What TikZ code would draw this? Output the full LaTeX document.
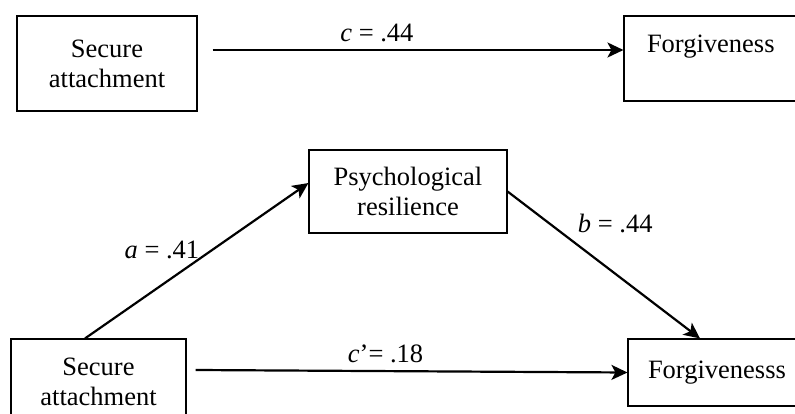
\documentclass[tikz,border=0pt]{standalone}
\usepackage{fontspec}
\setmainfont{Liberation Serif}
\usetikzlibrary{arrows.meta}

\begin{document}
\begin{tikzpicture}[x=1pt, y=-1pt,
    var box/.style={draw, line width=1.1pt, inner sep=0pt, align=center, font=\fontsize{26.5}{30}\selectfont},
    path arrow/.style={line width=2.2pt, -{Stealth[length=16pt, width=15pt, inset=4pt]}},
    coef/.style={inner sep=2pt, font=\fontsize{26.5}{30}\selectfont},
    ]
  \useasboundingbox (0,0) rectangle (795,414);
  \clip (0,0) rectangle (795,414);

  % total effect
  \node[var box, minimum width=180pt, minimum height=95pt] (sa1) at (107,63.5) {Secure\\attachment};
  \node[var box, align=left, text width=145pt, inner xsep=23pt, minimum height=85pt] (fg1) at (719.5,58.5) {Forgiveness\\\mbox{}};

  \draw[path arrow] ([xshift=15pt, yshift=13.5pt]sa1.east) -- node[coef, pos=0.4, anchor=base, yshift=8pt] (c1) {\textit{c} = .44} ([yshift=8.5pt]fg1.west);

  % mediation model
  \node[var box, minimum width=198pt, minimum height=83pt] (ps) at (408,191.5) {Psychological\\resilience};
  \node[var box, minimum width=175pt, minimum height=86pt] (sa2) at (98.5,382) {Secure\\attachment};
  \node[var box, align=left, text width=147pt, inner xsep=20pt, minimum height=67pt] (fg2) at (721.5,372.5) {Forgivenesss};

  \draw[path arrow] ([xshift=-13.5pt]sa2.north) -- node[coef, pos=0.57, anchor=east, xshift=-10pt] (a1) {\textit{a} = .41} ([yshift=8.5pt]ps.west);
  \draw[path arrow] (ps.east) -- node[coef, pos=0.22, anchor=west, xshift=25pt] (b1) {\textit{b} = .44} ([xshift=-21.5pt]fg2.north);
  \draw[path arrow] ([xshift=9pt, yshift=12pt]sa2.east) -- node[coef, pos=0.44, anchor=base, yshift=9pt] (c2) {\textit{c}’= .18} (fg2.west);
\end{tikzpicture}
\end{document}
